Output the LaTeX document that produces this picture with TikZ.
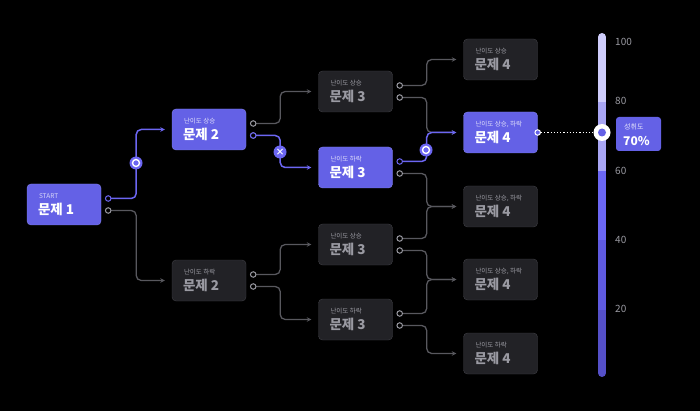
\documentclass[tikz,border=0pt]{standalone}
\usepackage{fontspec}
\setmainfont{Noto Sans CJK KR}
\usetikzlibrary{arrows.meta,calc}
\definecolor{pur}{HTML}{6461E6}
\definecolor{purl}{HTML}{6C66F2}
\definecolor{dbox}{HTML}{222226}
\definecolor{dbord}{HTML}{404046}
\definecolor{gline}{HTML}{58585E}
\definecolor{gtxt}{HTML}{9A9AA2}
\definecolor{s1}{HTML}{CFCDFB}
\definecolor{s2}{HTML}{A9A6F4}
\definecolor{s3}{HTML}{6C67F4}
\definecolor{s4}{HTML}{5F5AE0}
\definecolor{s5}{HTML}{5550C8}
\begin{document}
\begin{tikzpicture}[x=1pt,y=-1pt,
 box/.style={rounded corners=4pt,minimum width=74pt,minimum height=41pt,inner sep=0pt},
 pbox/.style={box,fill=pur,draw=pur!80!white},
 gbox/.style={box,fill=dbox,draw=dbord},
 port/.style={circle,draw,line width=1pt,inner sep=0pt,minimum size=5.5pt,fill=black},
 gl/.style={draw=gline,line width=1.3pt,rounded corners=5pt,-{Stealth[length=4.5pt,width=4.5pt]},shorten >=7pt},
 pl/.style={draw=purl,line width=1.5pt,rounded corners=5pt,-{Stealth[length=4.5pt,width=4.5pt]},shorten >=7pt},
 lbl/.style={font=\fontsize{6.5}{7}\selectfont},
 ttl/.style={font=\fontsize{13.5}{15}\selectfont\bfseries}]
\fill[black] (0,0) rectangle (700,411);
\useasboundingbox (0,0) rectangle (700,411);
\node[pbox] (A) at (64,204.5) {};
\node[pbox] (B1) at (209,129.5) {};
\node[gbox] (B2) at (209,280.5) {};
\node[gbox] (C1) at (355.5,91.5) {};
\node[pbox] (C2) at (355.5,167.5) {};
\node[gbox] (C3) at (355.5,244.5) {};
\node[gbox] (C4) at (355.5,319.5) {};
\node[gbox] (D1) at (500.5,59.5) {};
\node[pbox] (D2) at (500.5,132.5) {};
\node[gbox] (D3) at (500.5,206.5) {};
\node[gbox] (D4) at (500.5,279.5) {};
\node[gbox] (D5) at (500.5,353.5) {};
\foreach \n/\s/\t/\c/\k in {A/START/문제 1/white!75!pur/white, B1/난이도 상승/문제 2/white!80!pur/white, B2/난이도 하락/문제 2/gtxt/gtxt,
 C1/난이도 상승/문제 3/gtxt/gtxt, C2/난이도 하락/문제 3/white!80!pur/white, C3/난이도 상승/문제 3/gtxt/gtxt, C4/난이도 하락/문제 3/gtxt/gtxt,
 D1/난이도 상승/문제 4/gtxt/gtxt, D2/{난이도 상승, 하락}/문제 4/white!80!pur/white, D3/{난이도 상승, 하락}/문제 4/gtxt/gtxt, D4/{난이도 상승, 하락}/문제 4/gtxt/gtxt, D5/난이도 하락/문제 4/gtxt/gtxt}{
 \node[lbl,anchor=west,text=\c,inner sep=0pt] (\n-s) at ($(\n.west)+(12,-8)$) {\s};
 \node[ttl,anchor=west,text=\k,inner sep=0pt] (\n-t) at ($(\n.west)+(11,5)$) {\t};
}
\foreach \n in {A,B1,B2,C1,C2,C3,C4}{
 \coordinate (\n-pa) at ($(\n.east)+(7,-6)$);
 \coordinate (\n-pb) at ($(\n.east)+(7,6)$);
}
\draw[pl] (A-pa) -- ++(28,0) |- (B1.west);
\draw[gl] (A-pb) -- ++(28,0) |- (B2.west);
\draw[gl] (B1-pa) -- ++(27,0) |- (C1.west);
\draw[pl] (B1-pb) -- ++(27,0) |- (C2.west);
\draw[gl] (B2-pa) -- ++(27,0) |- (C3.west);
\draw[gl] (B2-pb) -- ++(27,0) |- (C4.west);
\draw[gl] (C1-pa) -- ++(27,0) |- (D1.west);
\draw[gl] (C1-pb) -- ++(27,0) |- (D2.west);
\draw[pl] (C2-pa) -- ++(27,0) |- (D2.west);
\draw[gl] (C2-pb) -- ++(27,0) |- (D3.west);
\draw[gl] (C3-pa) -- ++(27,0) |- (D3.west);
\draw[gl] (C3-pb) -- ++(27,0) |- (D4.west);
\draw[gl] (C4-pa) -- ++(27,0) |- (D4.west);
\draw[gl] (C4-pb) -- ++(27,0) |- (D5.west);
\foreach \n/\c in {A/purl,B1/gtxt,B2/gtxt,C1/gtxt,C3/gtxt,C4/gtxt}{
 \node[port,draw=\c] (\n-qa) at (\n-pa) {};
 \node[port,draw=gtxt] (\n-qb) at (\n-pb) {};
}
\node[port,draw=purl] (B1-qb) at (B1-pb) {};
\node[port,draw=purl] (C2-qa) at (C2-pa) {};
\node[port,draw=gtxt] (C2-qb) at (C2-pb) {};
\node[circle,fill=purl,minimum size=13pt,inner sep=0pt] (m1) at (136,163) {};
\node[circle,draw=white,line width=1.4pt,minimum size=7pt,inner sep=0pt] (m1i) at (m1) {};
\node[circle,fill=purl,minimum size=13pt,inner sep=0pt] (m3) at (426,150) {};
\node[circle,draw=white,line width=1.4pt,minimum size=7pt,inner sep=0pt] (m3i) at (m3) {};
\node[circle,fill=purl,minimum size=13pt,inner sep=0pt,text=white,font=\bfseries\fontsize{9}{9}\selectfont] (m2) at (280,152) {×};
\begin{scope}
\clip[rounded corners=4pt] (598,33) rectangle (606,377);
\fill[s1] (598,33) rectangle (606,102);
\fill[s2] (598,102) rectangle (606,171);
\fill[s3] (598,171) rectangle (606,240);
\fill[s4] (598,240) rectangle (606,310);
\fill[s5] (598,310) rectangle (606,377);
\end{scope}
\foreach \v/\y in {100/42,80/101,60/171,40/240,20/309}
 \node[anchor=west,text=gtxt,font=\fontsize{10}{12}\selectfont,inner sep=0pt] (t\v) at (615,\y) {\v};
\coordinate (D2p) at (D2.east);
\node[circle,fill=white,minimum size=17pt,inner sep=0pt] (knob) at (602,132.5) {};
\node[circle,fill=pur,minimum size=8pt,inner sep=0pt] (knobi) at (knob) {};
\draw[white,line width=1.2pt,dash pattern=on 1.2pt off 2pt] (D2p) -- (knob.west);
\node[port,draw=white,fill=pur] (D2q) at (D2p) {};
\node[fill=pur,rounded corners=3pt,minimum width=45pt,minimum height=34pt,inner sep=0pt] (ach) at (638.5,134) {};
\node[anchor=west,text=white!85!pur,font=\fontsize{7}{8}\selectfont,inner sep=0pt] (acs) at (624,127) {성취도};
\node[anchor=west,text=white,font=\bfseries\fontsize{12}{14}\selectfont,inner sep=0pt] (act) at (623,141) {70\%};
\end{tikzpicture}
\end{document}
